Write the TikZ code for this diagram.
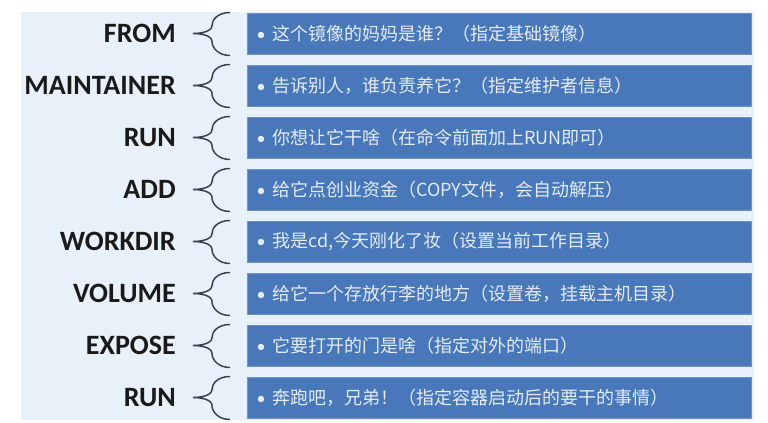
\documentclass[tikz,border=0pt]{standalone}
\usepackage{fontspec}
\usepackage{tikz}
\setmainfont{Carlito}
\newfontfamily\cjk{Noto Sans CJK SC}
\usetikzlibrary{
  calc,
  positioning
}
\definecolor{dfPanel}{HTML}{E8F1F9}
\definecolor{dfBox}{HTML}{4878B9}
\definecolor{dfText}{HTML}{E4EBF5}
\definecolor{dfInk}{HTML}{1A1A1A}
\definecolor{dfBrace}{HTML}{34424F}

\tikzset{
  cmd/.style={anchor=east, inner sep=0pt, text=dfInk,
    font=\fontsize{21}{21}\selectfont\bfseries},
  item/.style={anchor=west, draw=dfBox!80!white, line width=0.6pt, fill=dfBox,
    minimum width=378pt, minimum height=30.75pt, text width=364pt,
    inner xsep=7pt, align=left, text=dfText,
    font=\fontsize{13.5}{14}\selectfont\cjk},
  brace/.style={draw=dfBrace, line width=1.1pt}
}

\begin{document}
\begin{tikzpicture}[x=0.75pt, y=-0.75pt]
  \useasboundingbox (0,0) rectangle (768,423);
  \fill[dfPanel] (21,12) rectangle (754,420);
  % one row per instruction
  \foreach \i/\name/\txt in {
    0/FROM/{这个镜像的妈妈是谁？（指定基础镜像）},
    1/MAINTAINER/{告诉别人，谁负责养它？（指定维护者信息）},
    2/RUN/{你想让它干啥（在命令前面加上RUN即可）},
    3/ADD/{给它点创业资金（COPY文件，会自动解压）},
    4/WORKDIR/{我是cd,今天刚化了妆（设置当前工作目录）},
    5/VOLUME/{给它一个存放行李的地方（设置卷，挂载主机目录）},
    6/EXPOSE/{它要打开的门是啥（指定对外的端口）},
    7/RUN/{奔跑吧，兄弟！（指定容器启动后的要干的事情）}}{
    \node[item] (box\i) at (247, 33.5+52*\i) {{\rmfamily\textbullet}\hspace{5pt}\txt};
    \node[cmd] (cmd\i) at (176, 33.5+52*\i) {\name};
    \draw[brace] ($(box\i.west)+(-17,-21)$)
      .. controls +(-12,0) and +(0,-6) .. ($(box\i.west)+(-35,-8)$)
      .. controls +(0,6) and +(8,0) .. ($(box\i.west)+(-54,0)$)
      .. controls +(8,0) and +(0,-6) .. ($(box\i.west)+(-35,8)$)
      .. controls +(0,6) and +(-12,0) .. ($(box\i.west)+(-17,22)$);
  }
\end{tikzpicture}
\end{document}
